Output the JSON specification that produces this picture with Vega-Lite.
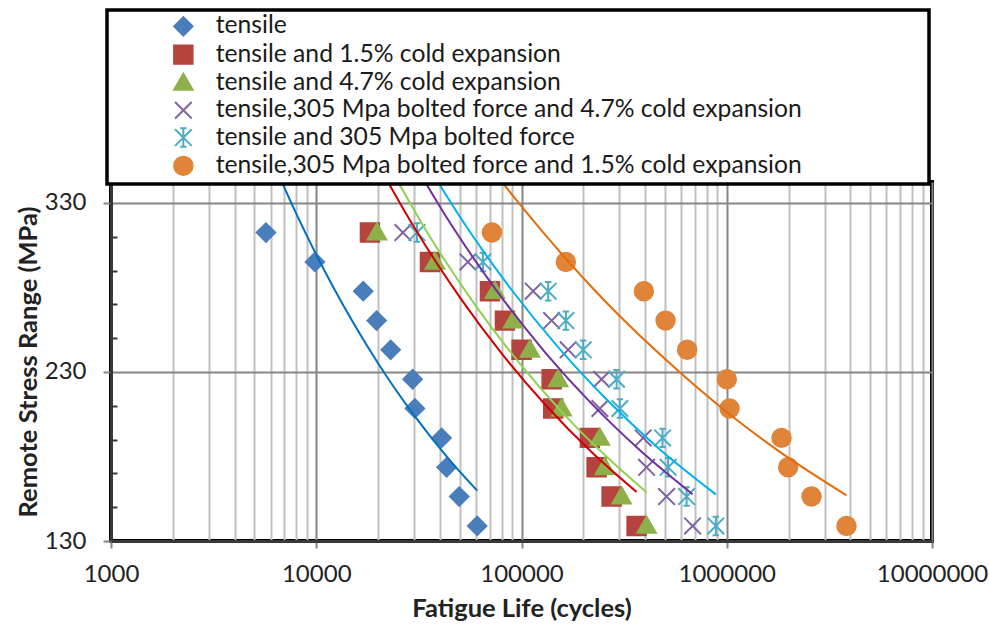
{
  "$schema": "https://vega.github.io/schema/vega-lite/v6.json",
  "width": 821,
  "height": 359,
  "autosize": {"type": "none"},
  "padding": {"left": 111, "top": 182, "right": 57, "bottom": 86},
  "background": "white",
  "config": {
    "font": "Lato",
    "view": {"stroke": "black", "strokeWidth": 4},
    "legend": {"strokeWidth": 3.5},
    "axis": {
      "domainColor": "#383838",
      "domainWidth": 3,
      "gridWidth": 2,
      "labelFont": "Lato",
      "labelFontSize": 24,
      "labelColor": "#222222",
      "titleFont": "Lato",
      "titleFontSize": 25.5,
      "titleFontWeight": "bold",
      "titleColor": "#222222",
      "tickColor": "#868686",
      "tickWidth": 2,
      "labelOverlap": false,
      "labelFlush": false
    }
  },
  "resolve": {"axis": {"x": "independent", "y": "independent"}},
  "datasets": {
    "points": [
      {"series": "tensile", "N": 5689, "S": 312.5},
      {"series": "tensile", "N": 9856, "S": 295.1},
      {"series": "tensile", "N": 16940, "S": 277.8},
      {"series": "tensile", "N": 19680, "S": 260.4},
      {"series": "tensile", "N": 23040, "S": 243.1},
      {"series": "tensile", "N": 29490, "S": 225.7},
      {"series": "tensile", "N": 30250, "S": 208.4},
      {"series": "tensile", "N": 40800, "S": 191.0},
      {"series": "tensile", "N": 43170, "S": 173.6},
      {"series": "tensile", "N": 49720, "S": 156.3},
      {"series": "tensile", "N": 60830, "S": 138.9},
      {"series": "tensile and 1.5% cold expansion", "N": 18260, "S": 312.5},
      {"series": "tensile and 1.5% cold expansion", "N": 35800, "S": 295.1},
      {"series": "tensile and 1.5% cold expansion", "N": 70200, "S": 277.8},
      {"series": "tensile and 1.5% cold expansion", "N": 83050, "S": 260.4},
      {"series": "tensile and 1.5% cold expansion", "N": 100100, "S": 243.1},
      {"series": "tensile and 1.5% cold expansion", "N": 140200, "S": 225.7},
      {"series": "tensile and 1.5% cold expansion", "N": 142700, "S": 208.4},
      {"series": "tensile and 1.5% cold expansion", "N": 215400, "S": 191.0},
      {"series": "tensile and 1.5% cold expansion", "N": 232200, "S": 173.6},
      {"series": "tensile and 1.5% cold expansion", "N": 274800, "S": 156.3},
      {"series": "tensile and 1.5% cold expansion", "N": 363700, "S": 138.9},
      {"series": "tensile and 4.7% cold expansion", "N": 19750, "S": 312.5},
      {"series": "tensile and 4.7% cold expansion", "N": 37860, "S": 295.1},
      {"series": "tensile and 4.7% cold expansion", "N": 74200, "S": 277.8},
      {"series": "tensile and 4.7% cold expansion", "N": 91100, "S": 260.4},
      {"series": "tensile and 4.7% cold expansion", "N": 109900, "S": 243.1},
      {"series": "tensile and 4.7% cold expansion", "N": 150900, "S": 225.7},
      {"series": "tensile and 4.7% cold expansion", "N": 156800, "S": 208.4},
      {"series": "tensile and 4.7% cold expansion", "N": 240900, "S": 191.0},
      {"series": "tensile and 4.7% cold expansion", "N": 254800, "S": 173.6},
      {"series": "tensile and 4.7% cold expansion", "N": 307300, "S": 156.3},
      {"series": "tensile and 4.7% cold expansion", "N": 406800, "S": 138.9},
      {"series": "tensile,305 Mpa bolted force and 4.7% cold expansion", "N": 26440, "S": 312.5},
      {"series": "tensile,305 Mpa bolted force and 4.7% cold expansion", "N": 54800, "S": 295.1},
      {"series": "tensile,305 Mpa bolted force and 4.7% cold expansion", "N": 114000, "S": 277.8},
      {"series": "tensile,305 Mpa bolted force and 4.7% cold expansion", "N": 140200, "S": 260.4},
      {"series": "tensile,305 Mpa bolted force and 4.7% cold expansion", "N": 168800, "S": 243.1},
      {"series": "tensile,305 Mpa bolted force and 4.7% cold expansion", "N": 245500, "S": 225.7},
      {"series": "tensile,305 Mpa bolted force and 4.7% cold expansion", "N": 240900, "S": 208.4},
      {"series": "tensile,305 Mpa bolted force and 4.7% cold expansion", "N": 391600, "S": 191.0},
      {"series": "tensile,305 Mpa bolted force and 4.7% cold expansion", "N": 406800, "S": 173.6},
      {"series": "tensile,305 Mpa bolted force and 4.7% cold expansion", "N": 509000, "S": 156.3},
      {"series": "tensile,305 Mpa bolted force and 4.7% cold expansion", "N": 681500, "S": 138.9},
      {"series": "tensile and 305 Mpa bolted force", "N": 30940, "S": 312.5},
      {"series": "tensile and 305 Mpa bolted force", "N": 64860, "S": 295.1},
      {"series": "tensile and 305 Mpa bolted force", "N": 134900, "S": 277.8},
      {"series": "tensile and 305 Mpa bolted force", "N": 164500, "S": 260.4},
      {"series": "tensile and 305 Mpa bolted force", "N": 199800, "S": 243.1},
      {"series": "tensile and 305 Mpa bolted force", "N": 290500, "S": 225.7},
      {"series": "tensile and 305 Mpa bolted force", "N": 301500, "S": 208.4},
      {"series": "tensile and 305 Mpa bolted force", "N": 486700, "S": 191.0},
      {"series": "tensile and 305 Mpa bolted force", "N": 518300, "S": 173.6},
      {"series": "tensile and 305 Mpa bolted force", "N": 637200, "S": 156.3},
      {"series": "tensile and 305 Mpa bolted force", "N": 884900, "S": 138.9},
      {"series": "tensile,305 Mpa bolted force and 1.5% cold expansion", "N": 71760, "S": 312.5},
      {"series": "tensile,305 Mpa bolted force and 1.5% cold expansion", "N": 164500, "S": 295.1},
      {"series": "tensile,305 Mpa bolted force and 1.5% cold expansion", "N": 394700, "S": 277.8},
      {"series": "tensile,305 Mpa bolted force and 1.5% cold expansion", "N": 503300, "S": 260.4},
      {"series": "tensile,305 Mpa bolted force and 1.5% cold expansion", "N": 641500, "S": 243.1},
      {"series": "tensile,305 Mpa bolted force and 1.5% cold expansion", "N": 1001000, "S": 225.7},
      {"series": "tensile,305 Mpa bolted force and 1.5% cold expansion", "N": 1032000, "S": 208.4},
      {"series": "tensile,305 Mpa bolted force and 1.5% cold expansion", "N": 1849000, "S": 191.0},
      {"series": "tensile,305 Mpa bolted force and 1.5% cold expansion", "N": 1991000, "S": 173.6},
      {"series": "tensile,305 Mpa bolted force and 1.5% cold expansion", "N": 2588000, "S": 156.3},
      {"series": "tensile,305 Mpa bolted force and 1.5% cold expansion", "N": 3832000, "S": 138.9}
    ],
    "trends": [
      {"series": "tensile", "N": 5689, "S": 364.0},
      {"series": "tensile", "N": 8000, "S": 323.5},
      {"series": "tensile", "N": 12000, "S": 281.0},
      {"series": "tensile", "N": 20000, "S": 235.2},
      {"series": "tensile", "N": 30000, "S": 204.3},
      {"series": "tensile", "N": 45000, "S": 177.4},
      {"series": "tensile", "N": 60830, "S": 159.8},
      {"series": "tensile and 1.5% cold expansion", "N": 18260, "S": 361.6},
      {"series": "tensile and 1.5% cold expansion", "N": 30000, "S": 315.6},
      {"series": "tensile and 1.5% cold expansion", "N": 50000, "S": 274.3},
      {"series": "tensile and 1.5% cold expansion", "N": 80000, "S": 241.0},
      {"series": "tensile and 1.5% cold expansion", "N": 130000, "S": 210.9},
      {"series": "tensile and 1.5% cold expansion", "N": 220000, "S": 182.5},
      {"series": "tensile and 1.5% cold expansion", "N": 363700, "S": 159.0},
      {"series": "tensile and 4.7% cold expansion", "N": 19750, "S": 365.4},
      {"series": "tensile and 4.7% cold expansion", "N": 35000, "S": 311.9},
      {"series": "tensile and 4.7% cold expansion", "N": 60000, "S": 269.0},
      {"series": "tensile and 4.7% cold expansion", "N": 100000, "S": 233.8},
      {"series": "tensile and 4.7% cold expansion", "N": 160000, "S": 205.4},
      {"series": "tensile and 4.7% cold expansion", "N": 260000, "S": 179.8},
      {"series": "tensile and 4.7% cold expansion", "N": 406800, "S": 158.8},
      {"series": "tensile,305 Mpa bolted force and 4.7% cold expansion", "N": 26440, "S": 364.8},
      {"series": "tensile,305 Mpa bolted force and 4.7% cold expansion", "N": 45000, "S": 318.0},
      {"series": "tensile,305 Mpa bolted force and 4.7% cold expansion", "N": 75000, "S": 278.7},
      {"series": "tensile,305 Mpa bolted force and 4.7% cold expansion", "N": 130000, "S": 241.8},
      {"series": "tensile,305 Mpa bolted force and 4.7% cold expansion", "N": 220000, "S": 211.1},
      {"series": "tensile,305 Mpa bolted force and 4.7% cold expansion", "N": 380000, "S": 183.4},
      {"series": "tensile,305 Mpa bolted force and 4.7% cold expansion", "N": 681500, "S": 157.7},
      {"series": "tensile and 305 Mpa bolted force", "N": 30940, "S": 363.0},
      {"series": "tensile and 305 Mpa bolted force", "N": 50000, "S": 322.0},
      {"series": "tensile and 305 Mpa bolted force", "N": 90000, "S": 278.2},
      {"series": "tensile and 305 Mpa bolted force", "N": 150000, "S": 245.0},
      {"series": "tensile and 305 Mpa bolted force", "N": 260000, "S": 213.7},
      {"series": "tensile and 305 Mpa bolted force", "N": 450000, "S": 186.4},
      {"series": "tensile and 305 Mpa bolted force", "N": 884900, "S": 157.6},
      {"series": "tensile,305 Mpa bolted force and 1.5% cold expansion", "N": 71760, "S": 350.0},
      {"series": "tensile,305 Mpa bolted force and 1.5% cold expansion", "N": 100000, "S": 328.0},
      {"series": "tensile,305 Mpa bolted force and 1.5% cold expansion", "N": 250000, "S": 273.0},
      {"series": "tensile,305 Mpa bolted force and 1.5% cold expansion", "N": 600000, "S": 229.1},
      {"series": "tensile,305 Mpa bolted force and 1.5% cold expansion", "N": 1010000, "S": 205.9},
      {"series": "tensile,305 Mpa bolted force and 1.5% cold expansion", "N": 1800000, "S": 183.0},
      {"series": "tensile,305 Mpa bolted force and 1.5% cold expansion", "N": 3832000, "S": 157.0}
    ]
  },
  "layer": [
    {
      "data": {"name": "points"},
      "mark": {"type": "point", "filled": true, "size": 340, "strokeWidth": 2, "opacity": 1},
      "encoding": {
        "x": {
          "field": "N", "type": "quantitative",
          "scale": {"type": "log", "domain": [1000, 10000000], "nice": false},
          "axis": {
            "orient": "bottom",
            "title": "Fatigue Life (cycles)",
            "values": [1000, 10000, 100000, 1000000, 10000000],
            "labelExpr": "format(datum.value, 'd')",
            "grid": true,
            "gridColor": "#868686",
            "tickSize": 7,
            "labelPadding": 14,
            "titlePadding": 10
          }
        },
        "y": {
          "field": "S", "type": "quantitative",
          "scale": {"domain": [130, 342.4], "zero": false, "nice": false},
          "axis": {
            "orient": "left",
            "title": "Remote Stress Range (MPa)",
            "values": [130, 230, 330],
            "grid": true,
            "gridColor": "#868686",
            "tickSize": 8,
            "labelPadding": 17,
            "titlePadding": 3
          }
        },
        "fill": {
          "field": "series", "type": "nominal",
          "scale": {
            "domain": ["tensile", "tensile and 1.5% cold expansion", "tensile and 4.7% cold expansion", "tensile,305 Mpa bolted force and 4.7% cold expansion", "tensile and 305 Mpa bolted force", "tensile,305 Mpa bolted force and 1.5% cold expansion"],
            "range": ["#4A7EBB", "#B5443F", "#8DB04A", "#8064A2", "#4BACC6", "#E0843A"]
          },
          "legend": {
            "orient": "none", "legendX": -4, "legendY": -172, "title": null,
            "fillColor": "white", "strokeColor": "black",
            "padding": 4, "symbolOffset": 60, "symbolSize": 340, "symbolStrokeWidth": 2,
            "labelFont": "Lato", "labelFontSize": 24.7, "labelColor": "#1a1a1a", "labelLimit": 900, "labelOffset": 20, "rowPadding": 1.3,
            "labelExpr": "datum.label + '\u2003\u2003\u2003\u2003\u2003\u2002\u2800'"
          }
        },
        "stroke": {
          "field": "series", "type": "nominal",
          "scale": {
            "domain": ["tensile", "tensile and 1.5% cold expansion", "tensile and 4.7% cold expansion", "tensile,305 Mpa bolted force and 4.7% cold expansion", "tensile and 305 Mpa bolted force", "tensile,305 Mpa bolted force and 1.5% cold expansion"],
            "range": ["#4A7EBB", "#B5443F", "#8DB04A", "#8064A2", "#4BACC6", "#E0843A"]
          },
          "legend": {
            "orient": "none", "legendX": -4, "legendY": -172, "title": null,
            "fillColor": "white", "strokeColor": "black",
            "padding": 4, "symbolOffset": 60, "symbolSize": 340, "symbolStrokeWidth": 2,
            "labelFont": "Lato", "labelFontSize": 24.7, "labelColor": "#1a1a1a", "labelLimit": 900, "labelOffset": 20, "rowPadding": 1.3,
            "labelExpr": "datum.label + '\u2003\u2003\u2003\u2003\u2003\u2002\u2800'"
          }
        },
        "shape": {
          "field": "series", "type": "nominal",
          "scale": {
            "domain": ["tensile", "tensile and 1.5% cold expansion", "tensile and 4.7% cold expansion", "tensile,305 Mpa bolted force and 4.7% cold expansion", "tensile and 305 Mpa bolted force", "tensile,305 Mpa bolted force and 1.5% cold expansion"],
            "range": ["diamond", "square", "M0,-1L1,0.75L-1,0.75Z", "M-0.9,-0.9L0.9,0.9M-0.9,0.9L0.9,-0.9", "M-0.9,-0.9L0.9,0.9M-0.9,0.9L0.9,-0.9M0,-1L0,1M-0.35,-1L0.35,-1M-0.35,1L0.35,1", "circle"]
          },
          "legend": {
            "orient": "none", "legendX": -4, "legendY": -172, "title": null,
            "fillColor": "white", "strokeColor": "black",
            "padding": 4, "symbolOffset": 60, "symbolSize": 340, "symbolStrokeWidth": 2,
            "labelFont": "Lato", "labelFontSize": 24.7, "labelColor": "#1a1a1a", "labelLimit": 900, "labelOffset": 20, "rowPadding": 1.3,
            "labelExpr": "datum.label + '\u2003\u2003\u2003\u2003\u2003\u2002\u2800'"
          }
        }
      }
    },
    {
      "data": {"name": "trends"},
      "mark": {"type": "line", "strokeWidth": 2, "interpolate": "monotone", "clip": true},
      "encoding": {
        "x": {
          "field": "N", "type": "quantitative",
          "axis": {
            "orient": "bottom",
            "title": null,
            "values": [2000, 3000, 4000, 5000, 6000, 7000, 8000, 9000, 20000, 30000, 40000, 50000, 60000, 70000, 80000, 90000, 200000, 300000, 400000, 500000, 600000, 700000, 800000, 900000, 2000000, 3000000, 4000000, 5000000, 6000000, 7000000, 8000000, 9000000],
            "grid": true,
            "gridColor": "#c0c0c0",
            "ticks": false,
            "labels": false,
            "domain": false
          }
        },
        "y": {
          "field": "S", "type": "quantitative",
          "axis": {
            "orient": "left",
            "title": null,
            "values": [150, 170, 190, 210, 250, 270, 290, 310],
            "grid": false,
            "labels": false,
            "domain": false,
            "ticks": true,
            "tickSize": 6,
            "tickColor": "#383838",
            "offset": -6
          }
        },
        "color": {
          "field": "series", "type": "nominal",
          "scale": {
            "domain": ["tensile", "tensile and 1.5% cold expansion", "tensile and 4.7% cold expansion", "tensile,305 Mpa bolted force and 4.7% cold expansion", "tensile and 305 Mpa bolted force", "tensile,305 Mpa bolted force and 1.5% cold expansion"],
            "range": ["#0070C0", "#D00000", "#92D050", "#7030A0", "#00B0F0", "#E46C0A"]
          },
          "legend": null
        }
      }
    }
  ]
}
